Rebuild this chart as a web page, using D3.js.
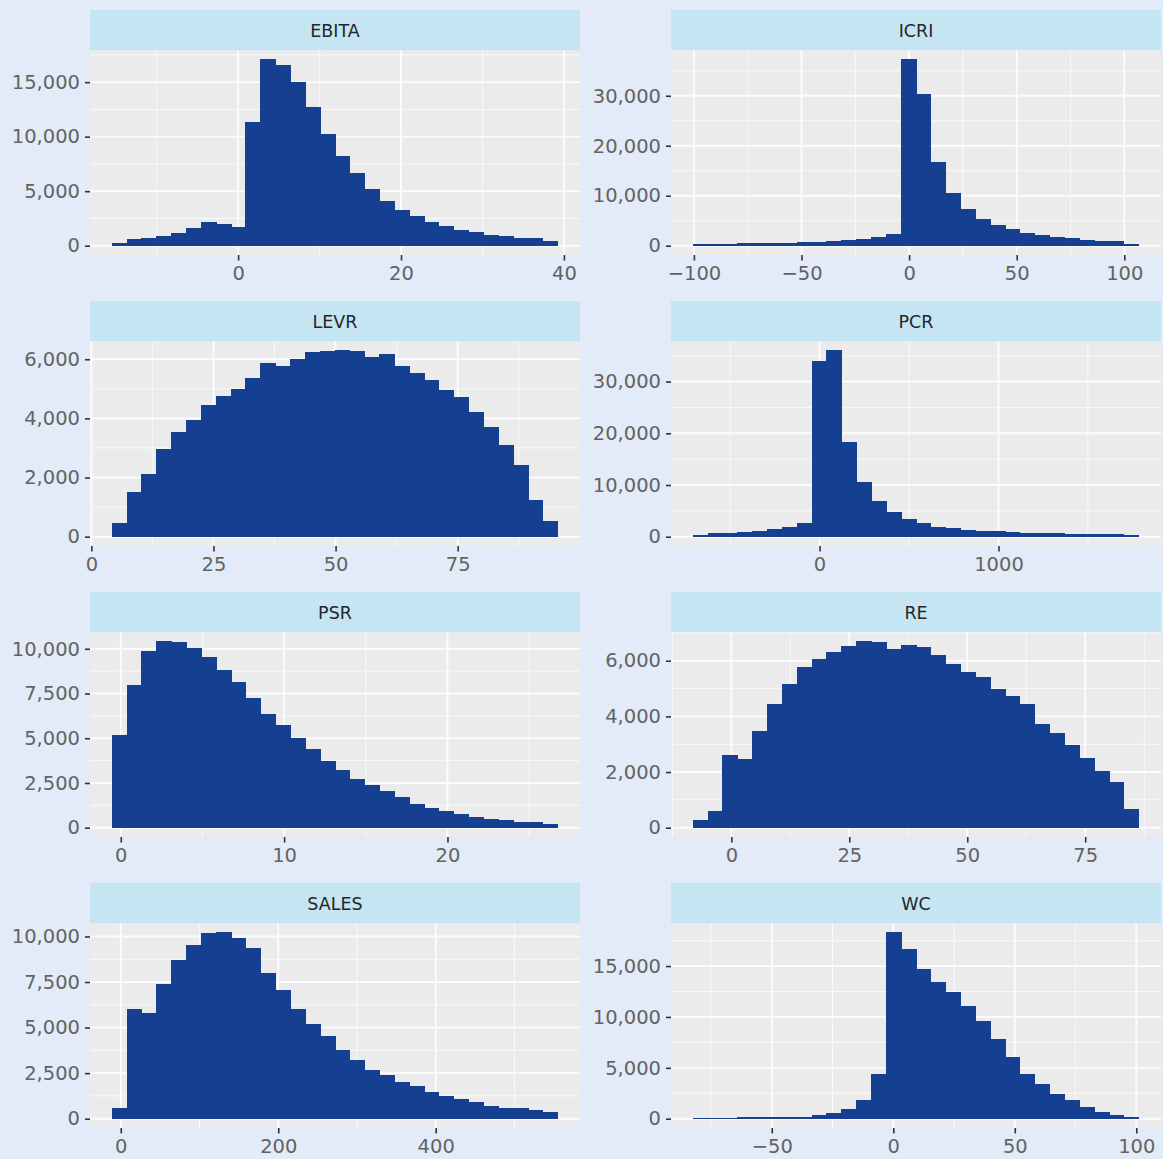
<!DOCTYPE html>
<html>
<head>
<meta charset="utf-8">
<script src="https://cdn.jsdelivr.net/npm/d3@7"></script>
<style>
  html, body { margin: 0; padding: 0; background: #e2ebf7; }
  svg { display: block; }
  text { font-family: "DejaVu Sans", sans-serif; }
</style>
</head>
<body>
<div id="chart"></div>
<script>
const facetNames = ["EBITA", "ICRI", "LEVR", "PCR", "PSR", "RE", "SALES", "WC"];

// counts per bin (30 bins each)
const ebitaCounts = [185, 525, 680, 865, 1140, 1605, 2100, 1945, 1667, 11300, 17050, 16500, 14950, 12700, 10180, 8190, 6620, 5140, 4090, 3230, 2650, 2130, 1730, 1390, 1170, 925, 800, 650, 620, 430];
const icriCounts = [230, 270, 300, 350, 400, 470, 530, 600, 670, 800, 1000, 1200, 1730, 2270, 37200, 30270, 16600, 10470, 7200, 5270, 4070, 3270, 2530, 2070, 1600, 1400, 1130, 930, 800, 200];
const levrCounts = [450, 1500, 2115, 2950, 3525, 3930, 4425, 4750, 4975, 5335, 5855, 5755, 5990, 6240, 6275, 6285, 6260, 6070, 6160, 5765, 5515, 5290, 4930, 4705, 4190, 3695, 3075, 2400, 1230, 505];
const pcrCounts = [320, 580, 710, 900, 1100, 1350, 1740, 2580, 33850, 35950, 18160, 10500, 6760, 4640, 3350, 2510, 1870, 1550, 1290, 1100, 970, 840, 710, 640, 580, 520, 450, 390, 390, 320];
const psrCounts = [5175, 7930, 9830, 10390, 10370, 10040, 9500, 8810, 8140, 7225, 6350, 5700, 4990, 4375, 3690, 3220, 2720, 2385, 2010, 1695, 1320, 1100, 895, 725, 560, 485, 390, 315, 315, 170];
const reCounts = [275, 575, 2590, 2445, 3440, 4430, 5140, 5750, 6035, 6300, 6500, 6680, 6650, 6420, 6540, 6480, 6200, 5880, 5570, 5390, 4970, 4710, 4410, 3700, 3380, 2970, 2480, 2035, 1640, 670];
const salesCounts = [565, 6015, 5760, 7370, 8680, 9490, 10150, 10200, 9910, 9340, 7950, 7020, 5995, 5175, 4535, 3730, 3215, 2650, 2360, 2010, 1775, 1445, 1245, 1060, 915, 695, 585, 550, 455, 365];
const wcCounts = [60, 60, 60, 70, 100, 100, 130, 165, 295, 520, 950, 1800, 4350, 18270, 16630, 14630, 13360, 12410, 11040, 9560, 7790, 6060, 4355, 3370, 2390, 1800, 1110, 620, 295, 130];

const allCounts = [ebitaCounts, icriCounts, levrCounts, pcrCounts, psrCounts, reCounts, salesCounts, wcCounts];

// left edge of first bin and bin width
const binStarts = [-15.45, -100.3, 4.28, -706, -0.52, -8.07, -10.8, -82.3];
const binWidths = [1.823, 6.9, 3.04, 83, 0.909, 3.147, 18.86, 6.11];

const xTickValues = [
  [0, 20, 40],
  [-100, -50, 0, 50, 100],
  [0, 25, 50, 75],
  [0, 1000],
  [0, 10, 20],
  [0, 25, 50, 75],
  [0, 200, 400],
  [-50, 0, 50, 100]
];
const yTickValues = [
  [0, 5000, 10000, 15000],
  [0, 10000, 20000, 30000],
  [0, 2000, 4000, 6000],
  [0, 10000, 20000, 30000],
  [0, 2500, 5000, 7500, 10000],
  [0, 2000, 4000, 6000],
  [0, 2500, 5000, 7500, 10000],
  [0, 5000, 10000, 15000]
];

const W = 1163, H = 1159;
const colLeft = [90, 671];
const panelW = 490;
const stripH = 40.5, panelH = 204.5, rowStep = 291, topPad = 10;

const barColor = "#153f91";

const svg = d3.select("#chart")
  .append("svg")
  .attr("width", W)
  .attr("height", H);

svg.append("rect")
  .attr("width", W)
  .attr("height", H)
  .attr("fill", "#e2ebf7");

// minor breaks between majors, plus one step outside each end
function minorBreaks(ticks, domain) {
  const out = [];
  const step = ticks.length > 1 ? ticks[1] - ticks[0] : 0;
  const ext = [ticks[0] - step, ...ticks, ticks[ticks.length - 1] + step];
  for (let k = 0; k < ext.length - 1; k++) out.push((ext[k] + ext[k + 1]) / 2);
  return out.filter(v => v >= domain[0] && v <= domain[1]);
}

const xFmt = d3.format("");
const yFmt = d3.format(",");

facetNames.forEach((name, i) => {
  const col = i % 2, row = Math.floor(i / 2);
  const left = colLeft[col];
  const stripTop = topPad + rowStep * row;
  const top = stripTop + stripH;
  const bottom = top + panelH;

  const counts = allCounts[i];
  const x0 = binStarts[i], bw = binWidths[i];
  const bins = counts.map((c, k) => ({ a: x0 + k * bw, b: x0 + (k + 1) * bw, n: c }));

  const xmin = x0, xmax = x0 + counts.length * bw;
  const xpad = (xmax - xmin) * 0.05;
  const ymax = d3.max(counts);

  const x = d3.scaleLinear()
    .domain([xmin - xpad, xmax + xpad])
    .range([left, left + panelW]);

  const y = d3.scaleLinear()
    .domain([-ymax * 0.05, ymax * 1.05])
    .range([bottom, top]);

  const g = svg.append("g").attr("class", "facet");

  // strip
  g.append("rect")
    .attr("x", left)
    .attr("y", stripTop)
    .attr("width", panelW)
    .attr("height", stripH)
    .attr("fill", "#c5e5f3");

  g.append("text")
    .attr("x", left + panelW / 2)
    .attr("y", stripTop + stripH / 2 + 1)
    .attr("text-anchor", "middle")
    .attr("dominant-baseline", "central")
    .attr("font-size", 17.5)
    .attr("fill", "#262626")
    .text(name);

  // panel
  g.append("rect")
    .attr("x", left)
    .attr("y", top)
    .attr("width", panelW)
    .attr("height", panelH)
    .attr("fill", "#ebebeb");

  const xMinor = minorBreaks(xTickValues[i], x.domain());
  const yMinor = minorBreaks(yTickValues[i], y.domain());

  g.selectAll(".xminor")
    .data(xMinor)
    .enter()
    .append("line")
    .attr("x1", d => x(d)).attr("x2", d => x(d))
    .attr("y1", top).attr("y2", bottom)
    .attr("stroke", "#f9fbfe")
    .attr("stroke-width", 0.9);

  g.selectAll(".yminor")
    .data(yMinor)
    .enter()
    .append("line")
    .attr("x1", left).attr("x2", left + panelW)
    .attr("y1", d => y(d)).attr("y2", d => y(d))
    .attr("stroke", "#f9fbfe")
    .attr("stroke-width", 0.9);

  g.selectAll(".xmajor")
    .data(xTickValues[i])
    .enter()
    .append("line")
    .attr("x1", d => x(d)).attr("x2", d => x(d))
    .attr("y1", top).attr("y2", bottom)
    .attr("stroke", "#fbfcff")
    .attr("stroke-width", 1.9);

  g.selectAll(".ymajor")
    .data(yTickValues[i])
    .enter()
    .append("line")
    .attr("x1", left).attr("x2", left + panelW)
    .attr("y1", d => y(d)).attr("y2", d => y(d))
    .attr("stroke", "#fbfcff")
    .attr("stroke-width", 1.9);

  // bars
  g.selectAll(".bar")
    .data(bins)
    .enter()
    .append("rect")
    .attr("class", "bar")
    .attr("x", d => x(d.a))
    .attr("y", d => y(d.n))
    .attr("width", d => x(d.b) - x(d.a))
    .attr("height", d => y(0) - y(d.n))
    .attr("fill", barColor)
    .attr("stroke", barColor)
    .attr("stroke-width", 1)
    .attr("shape-rendering", "crispEdges");

  // axes
  const xAxis = g.append("g")
    .attr("transform", `translate(0,${bottom})`)
    .call(d3.axisBottom(x).tickValues(xTickValues[i]).tickFormat(xFmt).tickSizeInner(5.5).tickSizeOuter(0).tickPadding(6));

  const yAxis = g.append("g")
    .attr("transform", `translate(${left},0)`)
    .call(d3.axisLeft(y).tickValues(yTickValues[i]).tickFormat(yFmt).tickSizeInner(5).tickSizeOuter(0).tickPadding(5));

  [xAxis, yAxis].forEach(ax => {
    ax.select(".domain").remove();
    ax.selectAll(".tick line").attr("stroke", "#333").attr("stroke-width", 1.6);
    ax.selectAll(".tick text")
      .attr("font-size", 19.5)
      .attr("fill", "#636363")
      .attr("font-family", "DejaVu Sans, sans-serif");
  });
});
</script>
</body>
</html>
